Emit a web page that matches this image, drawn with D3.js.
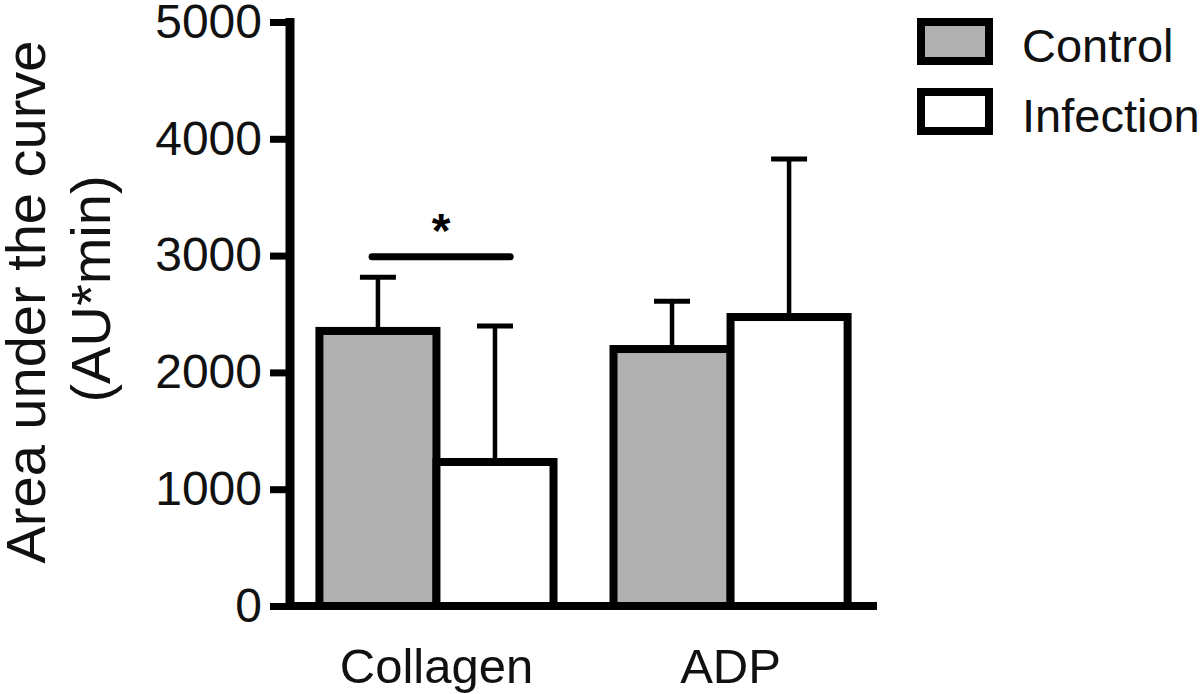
<!DOCTYPE html>
<html>
<head>
<meta charset="utf-8">
<script src="https://cdn.jsdelivr.net/npm/d3@7"></script>
<style>
  html, body { margin: 0; padding: 0; background: #fff; }
  svg { display: block; font-family: "Liberation Sans", Arial, Helvetica, sans-serif; }
</style>
</head>
<body>
<svg id="chart" width="1200" height="694"></svg>
<script>
// ---- data ----
const categories = ["Collagen", "ADP"];
const seriesNames = ["Control", "Infection"];
const controlMeans = [2355, 2200];
const controlErr = [460, 410];      // upper SD
const infectionMeans = [1233, 2474];
const infectionErr = [1165, 1353];
const yTicks = [0, 1000, 2000, 3000, 4000, 5000];
const yTitle = ["Area under the curve", "(AU*min)"];
const significance = [{ category: "Collagen", label: "*", level: 2990 }];

const colors = { Control: "#b0b0b0", Infection: "#ffffff" };

const svg = d3.select("#chart");

const x = d3.scaleBand().domain(categories).range([290, 877])
  .paddingInner(0.204).paddingOuter(0.1);
const xs = d3.scaleBand().domain(seriesNames).range([0, x.bandwidth()]);
const y = d3.scaleLinear().domain([0, 5000]).range([606, 22]);

const rows = [];
categories.forEach((c, i) => {
  rows.push({ cat: c, s: "Control", v: controlMeans[i], e: controlErr[i] });
  rows.push({ cat: c, s: "Infection", v: infectionMeans[i], e: infectionErr[i] });
});

// error bars (drawn first so bar outline covers the base)
const eg = svg.append("g");
rows.forEach(d => {
  const cx = x(d.cat) + xs(d.s) + xs.bandwidth() / 2;
  eg.append("line").attr("x1", cx).attr("x2", cx)
    .attr("y1", y(d.v)).attr("y2", y(d.v + d.e))
    .attr("stroke", "#000").attr("stroke-width", 4.5);
  eg.append("line").attr("x1", cx - 18).attr("x2", cx + 18)
    .attr("y1", y(d.v + d.e)).attr("y2", y(d.v + d.e))
    .attr("stroke", "#000").attr("stroke-width", 5);
});

// bars
svg.append("g").selectAll("rect").data(rows).join("rect")
  .attr("x", d => x(d.cat) + xs(d.s))
  .attr("width", xs.bandwidth())
  .attr("y", d => y(d.v))
  .attr("height", d => y(0) - y(d.v))
  .attr("fill", d => colors[d.s])
  .attr("stroke", "#000").attr("stroke-width", 8);

// y axis
const yAxis = svg.append("g").attr("transform", "translate(290,0)")
  .call(d3.axisLeft(y).tickValues(yTicks).tickSize(20).tickSizeOuter(0).tickPadding(8)
    .tickFormat(d3.format("d")));
yAxis.select(".domain").attr("stroke-width", 9).attr("stroke", "#000")
  .attr("d", `M0,${y(5000) - 4}V${y(0) + 4}`);
yAxis.selectAll(".tick line").attr("stroke-width", 7).attr("stroke", "#000");
yAxis.selectAll(".tick text").attr("font-size", 48).attr("fill", "#111")
  .attr("font-family", "Liberation Sans, Arial, sans-serif");

// x axis
const xAxis = svg.append("g").attr("transform", `translate(0,${y(0)})`)
  .call(d3.axisBottom(x).tickSize(0).tickPadding(0));
xAxis.select(".domain").attr("stroke-width", 8).attr("stroke", "#000")
  .attr("d", "M286,0H877");
xAxis.selectAll(".tick text").attr("font-size", 49).attr("fill", "#111")
  .attr("dy", null).attr("y", 77)
  .attr("font-family", "Liberation Sans, Arial, sans-serif");

// y title
svg.append("text").attr("transform", "translate(45,302) rotate(-90)")
  .attr("text-anchor", "middle").attr("font-size", 56).attr("fill", "#111")
  .text(yTitle[0]);
svg.append("text").attr("transform", "translate(110,289) rotate(-90)")
  .attr("text-anchor", "middle").attr("font-size", 56).attr("fill", "#111")
  .text(yTitle[1]);

// significance
significance.forEach(sg => {
  const x1 = x(sg.category) + xs.bandwidth() * 0.45;
  const x2 = x(sg.category) + xs.bandwidth() * 1.63;
  svg.append("line").attr("x1", x1).attr("x2", x2)
    .attr("y1", y(sg.level)).attr("y2", y(sg.level))
    .attr("stroke", "#000").attr("stroke-width", 7).attr("stroke-linecap", "round");
  svg.append("text").attr("x", (x1 + x2) / 2).attr("y", y(sg.level) - 10)
    .attr("text-anchor", "middle").attr("font-size", 48).attr("font-weight", "bold")
    .text(sg.label);
});

// legend
const lg = svg.append("g");
seriesNames.forEach((s, i) => {
  lg.append("rect").attr("x", 921).attr("y", 22 + i * 70).attr("width", 68).attr("height", 39)
    .attr("fill", colors[s]).attr("stroke", "#000").attr("stroke-width", 8);
  lg.append("text").attr("x", 1022).attr("y", 62 + i * 70)
    .attr("font-size", 47).attr("fill", "#111").text(s);
});
</script>
</body>
</html>
